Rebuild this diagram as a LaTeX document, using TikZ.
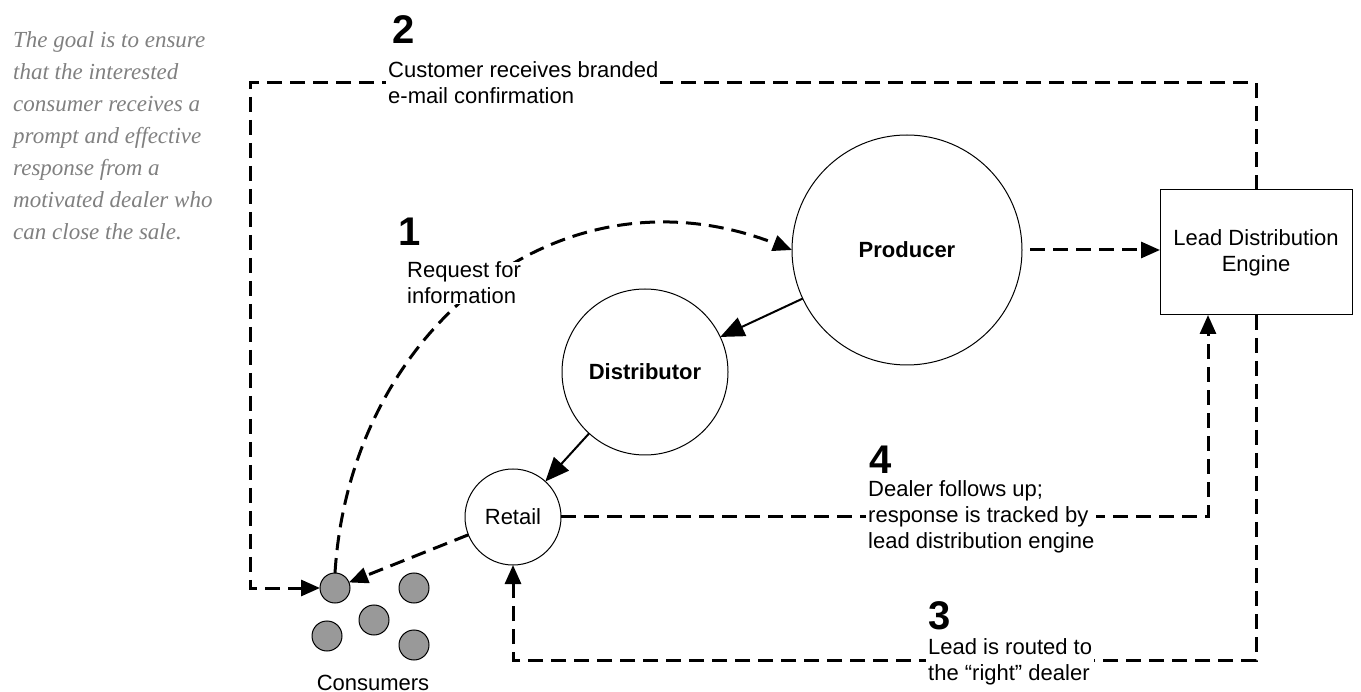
\documentclass[tikz,border=0pt]{standalone}
\usepackage{fontspec}
\setmainfont{Liberation Sans}
\newfontfamily\goalfont{Liberation Serif}
\usetikzlibrary{arrows.meta,calc}
\definecolor{goalgrey}{RGB}{128,128,128}
\definecolor{dotgrey}{RGB}{153,153,153}
\tikzset{
  dline/.style={line width=3pt, dash pattern=on 15pt off 8pt, -{Triangle[length=19pt,width=16pt]}},
  sline/.style={line width=2pt, -{Triangle[length=24pt,width=20pt]}},
  ring/.style={circle, draw, line width=1pt, inner sep=0pt, outer sep=0pt},
  dot/.style={circle, draw, line width=1pt, fill=dotgrey, minimum size=30pt, inner sep=0pt, outer sep=0pt},
  lbl/.style={fill=white, inner xsep=2pt, inner ysep=0pt, align=left, font=\fontsize{22}{26}\selectfont},
  num/.style={inner sep=0pt, font=\fontsize{40}{44}\selectfont\bfseries},
  txt/.style={font=\fontsize{22}{26}\selectfont}
}
\begin{document}
\begin{tikzpicture}[x=1pt,y=-1pt]
\useasboundingbox (0,0) rectangle (1361,692);
% goal text
\node[anchor=north west, inner sep=0pt, align=left, text=goalgrey,
      font=\goalfont\itshape\fontsize{23}{32}\selectfont] (goal) at (13,31)
  {The goal is to ensure\\that the interested\\consumer receives a\\prompt and effective\\response from a\\motivated dealer who\\can close the sale.};
% main shapes
\node[ring, minimum size=230pt, txt] (prod) at (907,250) {\textbf{Producer}};
\node[ring, minimum size=166pt, txt] (dist) at (645,372) {\textbf{Distributor}};
\node[ring, minimum size=96pt, txt] (retail) at (513,517) {Retail};
\node[draw, line width=1pt, anchor=north west, minimum width=192pt, minimum height=125pt,
      align=center, inner sep=0pt, outer sep=0pt, txt] (lde) at (1160,190) {Lead Distribution\\Engine};
% consumers
\node[dot] (c1) at (335,588) {};
\node[dot] (c2) at (414,588) {};
\node[dot] (c3) at (374,620) {};
\node[dot] (c4) at (327,636) {};
\node[dot] (c5) at (414,645) {};
\node[txt, inner sep=0pt, anchor=base] (cons) at (373,690) {Consumers};
% coordinates
\coordinate (tl) at (250,83);
\coordinate (l4) at ($(lde.south west)+(48,0)$);
% connectors
\draw[dline] (lde.north) |- (tl) |- (c1.west);
\draw[dline] (c1.north) .. controls (350,330) and (560,160) .. (prod.west);
\draw[dline, shorten <=8pt] (prod.east) -- (prod.east -| lde.west);
\draw[sline] (prod) -- (dist);
\draw[sline] (dist) -- (retail);
\draw[dline] (retail) -- (c1);
\draw[dline] (retail.east) -| (l4);
\draw[dline] (lde.south) -- ++(0,345) -| (retail.south);
% labels
\node[lbl, anchor=west] (t2) at (386,83) {Customer receives branded\\e-mail confirmation};
\node[lbl, anchor=west] (t1) at (405,283) {Request for\\information};
\node[lbl, anchor=west] (t4) at (866,517) {Dealer follows up;\\response is tracked by\\lead distribution engine};
\node[lbl, anchor=west] (t3) at (926,662) {Lead is routed to\\the “right” dealer};
\node[num] (n2) at (404,30) {2};
\node[num] (n1) at (410,232) {1};
\node[num] (n4) at (881,460) {4};
\node[num] (n3) at (940,616) {3};
\end{tikzpicture}
\end{document}
